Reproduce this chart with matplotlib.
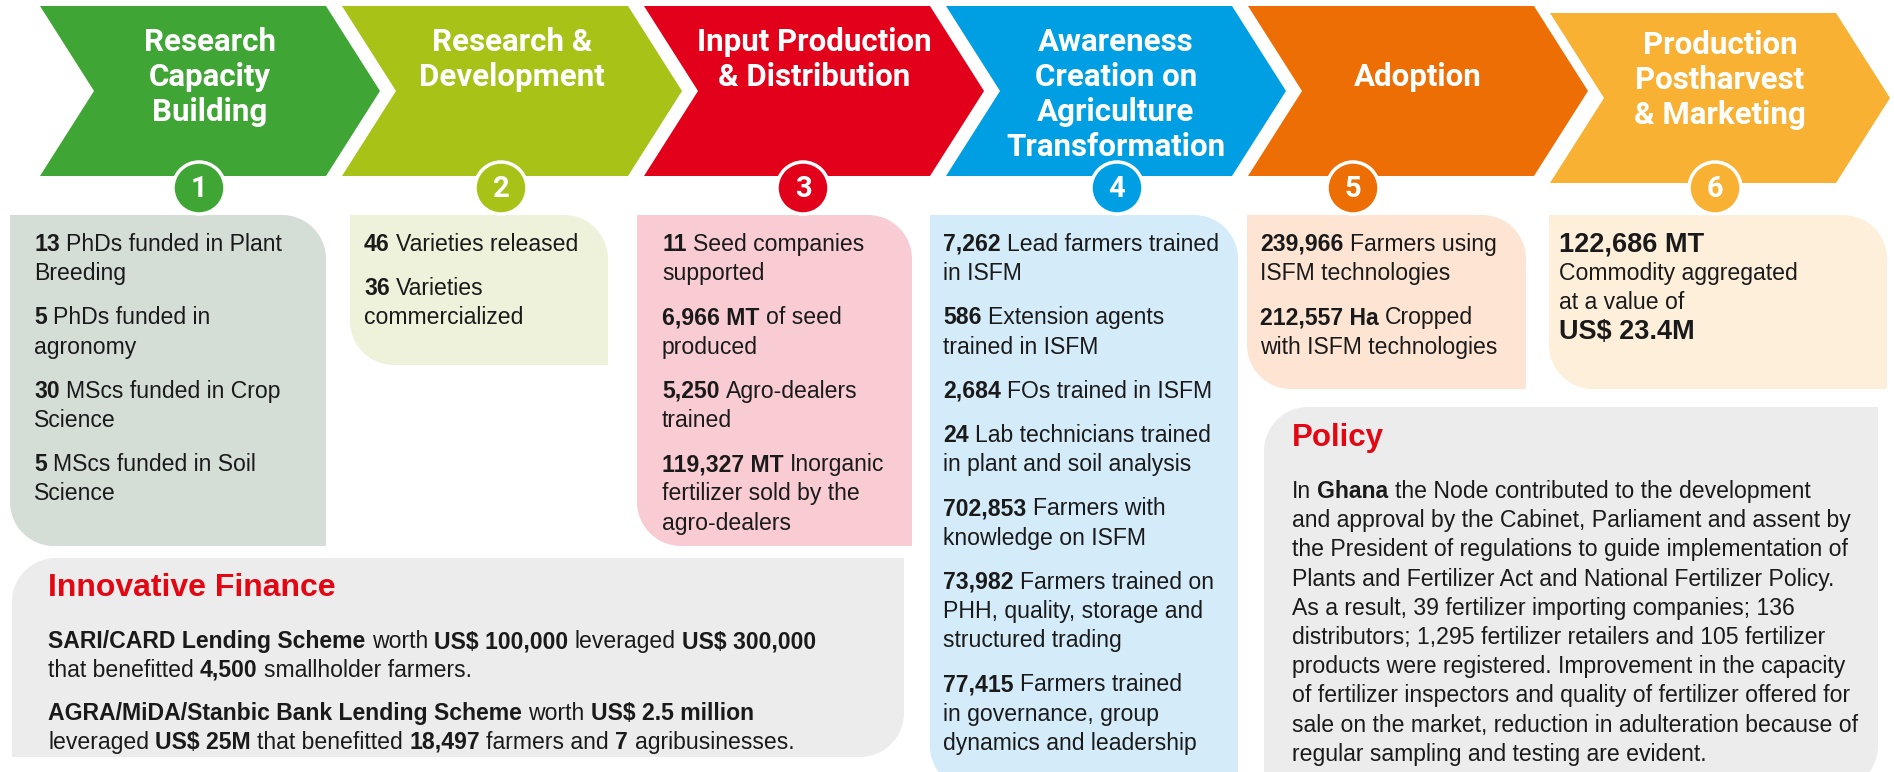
#!/usr/bin/env python3
"""
Six-stage value chain infographic with result boxes, Innovative Finance and Policy panels.
"""

import numpy as np
import matplotlib
matplotlib.use("Agg")
import matplotlib.pyplot as plt
from matplotlib.patches import Polygon, Circle
from matplotlib import font_manager

W, H = 1894, 772

# ---- data ----
stage_titles = [
    "Research\nCapacity\nBuilding",
    "Research &\nDevelopment",
    "Input Production\n& Distribution",
    "Awareness\nCreation on\nAgriculture\nTransformation",
    "Adoption",
    "Production\nPostharvest\n& Marketing",
]
stage_numbers = ["1", "2", "3", "4", "5", "6"]

box1_items = [
    "**13** PhDs funded in Plant\nBreeding",
    "**5** PhDs funded in\nagronomy",
    "**30** MScs funded in Crop\nScience",
    "**5** MScs funded in Soil\nScience",
]
box2_items = [
    "**46** Varieties released",
    "**36** Varieties\ncommercialized",
]
box3_items = [
    "**11** Seed companies\nsupported",
    "**6,966 MT** of seed\nproduced",
    "**5,250** Agro-dealers\ntrained",
    "**119,327 MT** Inorganic\nfertilizer sold by the\nagro-dealers",
]
box4_items = [
    "**7,262** Lead farmers trained\nin ISFM",
    "**586** Extension agents\ntrained in ISFM",
    "**2,684** FOs trained in ISFM",
    "**24** Lab technicians trained\nin plant and soil analysis",
    "**702,853** Farmers with\nknowledge on ISFM",
    "**73,982** Farmers trained on\nPHH, quality, storage and\nstructured trading",
    "**77,415** Farmers trained\nin governance, group\ndynamics and leadership",
]
box5_items = [
    "**239,966** Farmers using\nISFM technologies",
    "**212,557 Ha** Cropped\nwith ISFM technologies",
]
box6_items = [
    "**122,686 MT**\nCommodity aggregated\nat a value of\n**US$ 23.4M**",
]

finance_title = "Innovative Finance"
finance_lines = [
    "**SARI/CARD Lending Scheme** worth **US$ 100,000** leveraged **US$ 300,000**",
    "that benefitted **4,500** smallholder farmers.",
    "**AGRA/MiDA/Stanbic Bank Lending Scheme** worth **US$ 2.5 million**",
    "leveraged **US$ 25M** that benefitted **18,497** farmers and **7** agribusinesses.",
]

policy_title = "Policy"
policy_lines = [
    "In **Ghana** the Node contributed to the development",
    "and approval by the Cabinet, Parliament and assent by",
    "the President of regulations to guide implementation of",
    "Plants and Fertilizer Act and National Fertilizer Policy.",
    "As a result, 39 fertilizer importing companies; 136",
    "distributors; 1,295 fertilizer retailers and 105 fertilizer",
    "products were registered. Improvement in the capacity",
    "of fertilizer inspectors and quality of fertilizer offered for",
    "sale on the market, reduction in adulteration because of",
    "regular sampling and testing are evident.",
]

# ---- styles / layout ----
chevron_colors = ["#3fa535", "#a8c217", "#e2001a", "#009fe3", "#ec6e05", "#f8b133"]
box_colors = ["#d4ddd6", "#eef2da", "#f9ccd3", "#d4ebfa", "#fde4d3", "#feefda"]
panel_grey = "#ececec"
accent_red = "#e30613"
text_color = "#1a1a1a"


def has_font(name):
    try:
        font_manager.findfont(font_manager.FontProperties(family=name),
                              fallback_to_default=False)
        return True
    except Exception:
        return False


body_family = "Liberation Sans Narrow" if has_font("Liberation Sans Narrow") else "Liberation Sans"
body_size = 19.5 if body_family == "Liberation Sans Narrow" else 16.6
title_family = "Roboto" if has_font("Roboto") else "DejaVu Sans"

fig = plt.figure(figsize=(W / 100, H / 100), dpi=100)
ax = fig.add_axes([0, 0, 1, 1])
ax.set_xlim(0, W)
ax.set_ylim(H, 0)
ax.axis("off")
renderer = fig.canvas.get_renderer()


def rounded_box(x0, y0, x1, y1, r, corners, color):
    pts = []

    def arc(cx, cy, a0, a1):
        t = np.radians(np.linspace(a0, a1, 24))
        return list(zip(cx + r * np.cos(t), cy + r * np.sin(t)))

    pts += arc(x0 + r, y0 + r, 180, 270) if "tl" in corners else [(x0, y0)]
    pts += arc(x1 - r, y0 + r, 270, 360) if "tr" in corners else [(x1, y0)]
    pts += arc(x1 - r, y1 - r, 0, 90) if "br" in corners else [(x1, y1)]
    pts += arc(x0 + r, y1 - r, 90, 180) if "bl" in corners else [(x0, y1)]
    ax.add_patch(Polygon(pts, closed=True, facecolor=color, edgecolor="none", zorder=1))


_space = {}


def space_width(weight, size):
    key = (weight, size)
    if key not in _space:
        ws = []
        for s in ("x x", "xx"):
            t = ax.text(0, 0, s, fontsize=size, family=body_family, fontweight=weight)
            ws.append(t.get_window_extent(renderer).width)
            t.remove()
        _space[key] = ws[0] - ws[1]
    return _space[key]


def draw_rich(x, y, line, size=None, bold_size=None, color=text_color):
    size = size or body_size
    bold_size = bold_size or size
    cx = x
    for i, chunk in enumerate(line.split("**")):
        if not chunk:
            continue
        weight = "bold" if i % 2 else "normal"
        fs = bold_size if i % 2 else size
        sw = space_width(weight, fs)
        lead = len(chunk) - len(chunk.lstrip(" "))
        trail = len(chunk) - len(chunk.rstrip(" "))
        core = chunk.strip(" ")
        cx += lead * sw
        if core:
            t = ax.text(cx, y, core, fontsize=fs, family=body_family, fontweight=weight,
                        color=color, ha="left", va="baseline", zorder=5)
            cx += t.get_window_extent(renderer).width
        cx += trail * sw


# result boxes under each stage
box_rects = [
    (10, 215, 326, 546),
    (350, 215, 608, 365),
    (637, 215, 912, 546),
    (930, 215, 1238, 790),
    (1247, 215, 1526, 389),
    (1549, 215, 1887, 389),
]
for (x0, y0, x1, y1), c in zip(box_rects, box_colors):
    rounded_box(x0, y0, x1, y1, 44, ("tr", "bl"), c)

# grey panels
rounded_box(12, 558, 904, 757, 44, ("tl", "br"), panel_grey)
rounded_box(1264, 407, 1878, 790, 44, ("tl", "br"), panel_grey)

# chevrons
CH_L, CH_W, CH_D, CH_STEP = 40, 340, 54, 302
for i, c in enumerate(chevron_colors):
    left = CH_L + CH_STEP * i
    top, bot = (6, 176) if i < 5 else (13, 183)
    mid = (top + bot) / 2
    pts = [(left, top), (left + CH_W - CH_D, top), (left + CH_W, mid),
           (left + CH_W - CH_D, bot), (left, bot), (left + CH_D, mid)]
    ax.add_patch(Polygon(pts, closed=True, facecolor=c, edgecolor="none", zorder=2))

    first_y = 75 if stage_titles[i].count("\n") == 0 else (40 if i < 5 else 43)
    for k, ln in enumerate(stage_titles[i].split("\n")):
        ax.text(left + CH_W / 2, first_y + 35 * k + 11, ln, fontsize=22.5, family=title_family,
                fontweight="bold", color="white", ha="center", va="baseline", zorder=3)

# numbered circles
circle_x = [199, 501, 803, 1117, 1353, 1715]
for cx, c, n in zip(circle_x, chevron_colors, stage_numbers):
    ax.add_patch(Circle((cx, 188), 26, facecolor=c, edgecolor="white", linewidth=2.5, zorder=4))
    ax.text(cx, 189, n, fontsize=21, family=title_family, fontweight="bold", color="white",
            ha="center", va="center", zorder=5)

# box text
text_x = [34, 364, 662, 943, 1260, 1559]
all_items = [box1_items, box2_items, box3_items, box4_items, box5_items, box6_items]
bold_sizes = [None, None, None, None, None, 19.5]
LINE, GAP = 29.2, 15
for tx, items, bs in zip(text_x, all_items, bold_sizes):
    y = 251
    for item in items:
        for ln in item.split("\n"):
            draw_rich(tx, y, ln, bold_size=bs)
            y += LINE
        y += GAP

# Innovative Finance panel
ax.text(48, 596, finance_title, fontsize=23, family=body_family, fontweight="bold",
        color=accent_red, ha="left", va="baseline", zorder=5)
for ln, y in zip(finance_lines, [648, 677, 720, 749]):
    draw_rich(48, y, ln)

# Policy panel
ax.text(1292, 446, policy_title, fontsize=22.5, family=body_family, fontweight="bold",
        color=accent_red, ha="left", va="baseline", zorder=5)
for k, ln in enumerate(policy_lines):
    draw_rich(1292, 498 + 29.2 * k, ln)

fig.savefig("out.png", dpi=100)
plt.close(fig)
